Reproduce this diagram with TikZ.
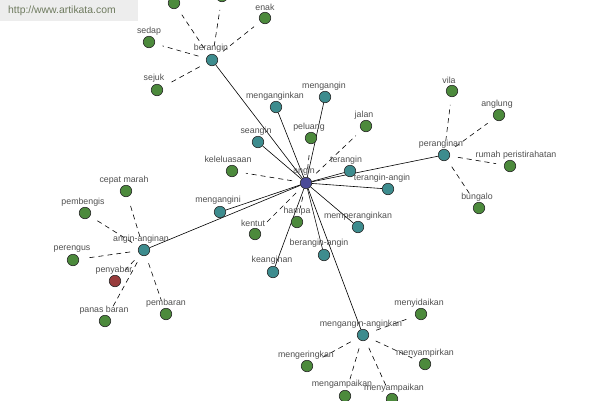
\documentclass[tikz,border=0pt]{standalone}
\usepackage{fontspec}
\newfontfamily\lblfont{Liberation Sans}
\usetikzlibrary{backgrounds}
\definecolor{tealc}{HTML}{3D8C8E}
\definecolor{greenc}{HTML}{4C8A3C}
\definecolor{bluec}{HTML}{4A4A98}
\definecolor{redc}{HTML}{983C3C}
\definecolor{lblc}{HTML}{505050}
\definecolor{wmc}{HTML}{6E7A5E}
\definecolor{wmbg}{HTML}{EDEDED}
\newcommand\V[7]{\node[#2] (#1) at (#3,#4) {}; \node[lbl] (#1l) at (#5,#6) {#7};}
\begin{document}
\begin{tikzpicture}[x=1pt,y=-1pt,
  vtx/.style={circle,draw=black!85,line width=0.6pt,minimum size=11.5pt,inner sep=0pt},
  tv/.style={vtx,fill=tealc},
  gv/.style={vtx,fill=greenc},
  bv/.style={vtx,fill=bluec},
  rv/.style={vtx,fill=redc},
  lbl/.style={inner sep=0pt,text=lblc,font=\lblfont\fontsize{8.8}{10}\selectfont},
  sol/.style={line width=0.6pt,draw=black},
  dsh/.style={line width=0.6pt,draw=black,dash pattern=on 5pt off 4pt,shorten <=8pt,shorten >=8pt}]
\useasboundingbox (0,0) rectangle (600,400);
\clip (0,0) rectangle (600,400);
\V{angin}{bv}{306}{183}{304}{171}{angin}
\V{berangin}{tv}{212}{60}{211}{48}{berangin}
\V{menganginkan}{tv}{276}{107}{275}{96}{menganginkan}
\V{mengangin}{tv}{325}{97}{324}{86}{mengangin}
\V{seangin}{tv}{258}{142}{256}{131}{seangin}
\V{terangin}{tv}{350}{171}{346}{160}{terangin}
\V{teranginangin}{tv}{388}{189}{382}{178}{terangin-angin}
\V{memperanginkan}{tv}{358}{227}{358}{216}{memperanginkan}
\V{beranginangin}{tv}{324}{255}{319}{243}{berangin-angin}
\V{keanginan}{tv}{273}{272}{272}{260}{keanginan}
\V{mengangini}{tv}{220}{212}{218}{200}{mengangini}
\V{anginanginan}{tv}{144}{250}{141}{239}{angin-anginan}
\V{peranginan}{tv}{444}{155}{441}{144}{peranginan}
\V{mma}{tv}{363}{335}{361}{324}{mengangin-anginkan}
\V{peluang}{gv}{311}{138}{309}{127}{peluang}
\V{jalan}{gv}{366}{126}{364}{115}{jalan}
\V{keleluasaan}{gv}{232}{171}{228}{159}{keleluasaan}
\V{kentut}{gv}{255}{234}{253}{223}{kentut}
\V{hampa}{gv}{297}{222}{297}{211}{hampa}
\V{sedap}{gv}{149}{42}{149}{31}{sedap}
\V{sejuk}{gv}{157}{90}{154}{78}{sejuk}
\V{enak}{gv}{265}{18}{265}{7}{enak}
\node[gv] (topa) at (174,3) {};
\node[gv] (topb) at (222,-4) {};
\V{vila}{gv}{452}{91}{449}{80}{vila}
\V{anglung}{gv}{499}{115}{497}{104}{anglung}
\V{rumah}{gv}{510}{166}{516}{155}{rumah peristirahatan}
\V{bungalo}{gv}{479}{208}{477}{197}{bungalo}
\V{cepat}{gv}{126}{191}{124}{180}{cepat marah}
\V{pembengis}{gv}{85}{213}{83}{202}{pembengis}
\V{perengus}{gv}{73}{260}{72}{249}{perengus}
\V{penyabar}{rv}{115}{281}{114}{270}{penyabar}
\V{panas}{gv}{105}{321}{104}{310}{panas baran}
\V{pembaran}{gv}{166}{314}{166}{303}{pembaran}
\V{menyidaikan}{gv}{421}{314}{419}{303}{menyidaikan}
\V{menyampirkan}{gv}{425}{364}{425}{353}{menyampirkan}
\V{mengeringkan}{gv}{307}{366}{306}{355}{mengeringkan}
\V{mengampaikan}{gv}{345}{396}{342}{384}{mengampaikan}
\V{menyampaikan}{gv}{392}{399}{394}{388}{menyampaikan}
\begin{scope}[on background layer]
\fill[white] (0,0) rectangle (600,400);
\fill[wmbg] (0,0) rectangle (138,21);
\node[inner sep=0pt,text=wmc,font=\lblfont\fontsize{10.4}{12}\selectfont,anchor=west] (wm) at (8,11) {http://www.artikata.com};
\foreach \t in {berangin,menganginkan,mengangin,seangin,terangin,teranginangin,memperanginkan,beranginangin,keanginan,mengangini,anginanginan,peranginan,mma}
  \draw[sol] (angin) -- (\t);
\foreach \t in {peluang,jalan,keleluasaan,kentut,hampa}
  \draw[dsh] (angin) -- (\t);
\foreach \t in {sedap,sejuk,enak,topa,topb}
  \draw[dsh] (berangin) -- (\t);
\foreach \t in {vila,anglung,rumah,bungalo}
  \draw[dsh] (peranginan) -- (\t);
\foreach \t in {cepat,pembengis,perengus,penyabar,panas,pembaran}
  \draw[dsh] (anginanginan) -- (\t);
\foreach \t in {menyidaikan,menyampirkan,mengeringkan,mengampaikan,menyampaikan}
  \draw[dsh] (mma) -- (\t);
\end{scope}
\end{tikzpicture}
\end{document}
